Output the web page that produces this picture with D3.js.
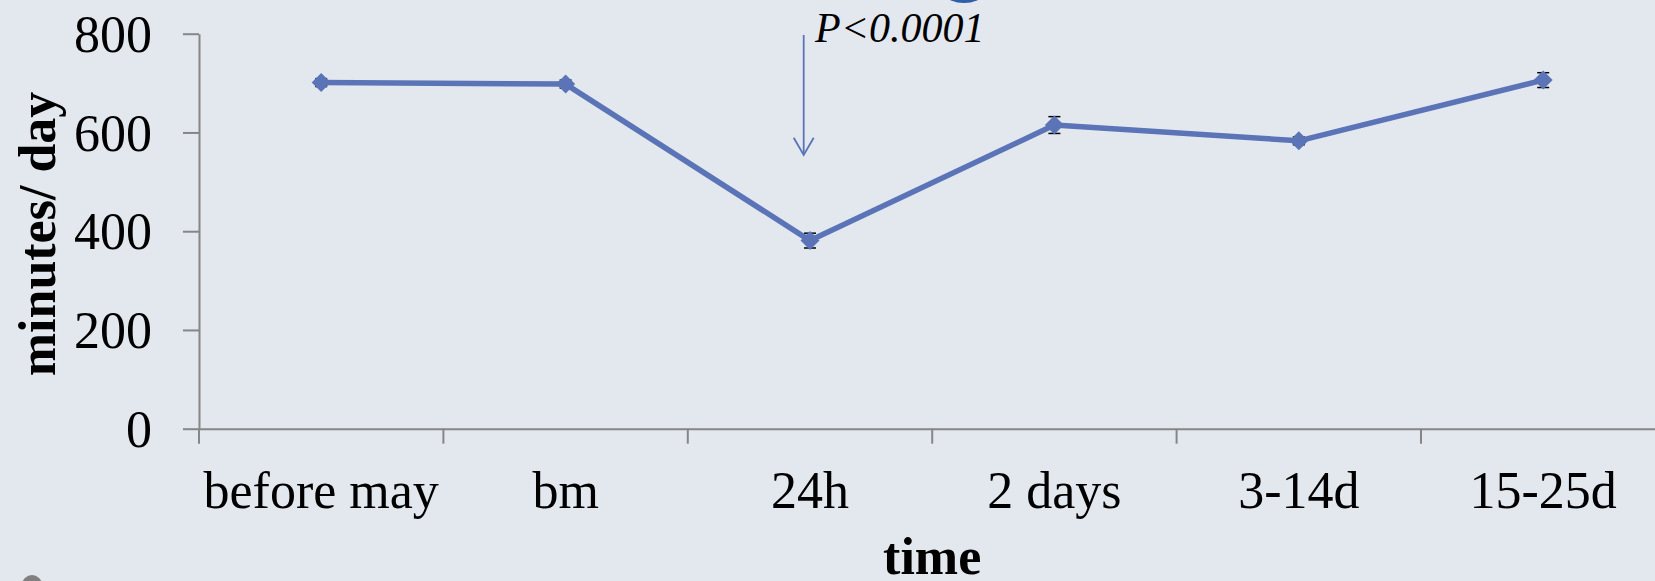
<!DOCTYPE html>
<html>
<head>
<meta charset="utf-8">
<script src="https://cdn.jsdelivr.net/npm/d3@7"></script>
<style>
  body { margin: 0; background: #e3e8ef; }
  svg { display: block; }
  text { font-family: "Liberation Serif", "Times New Roman", serif; fill: #000; }
</style>
</head>
<body>
<svg id="chart"></svg>
<script>
// data
var categories = ["before may", "bm", "24h", "2 days", "3-14d", "15-25d"];
var values = [701, 698, 381, 615, 583, 706];
var errors = [8, 8, 15, 17, 8, 15];
var yTicks = [0, 200, 400, 600, 800];
var pLabel = "P<0.0001";

var width = 1655,
    height = 581;
var plotLeft = 199, plotTop = 33.7, plotBottom = 428.7;
var step = 244.4;

var svg = d3.select("#chart")
    .attr("width", width)
    .attr("height", height);

svg.append("rect")
    .attr("width", width)
    .attr("height", height)
    .attr("fill", "#e3e8ef");

var x = d3.scaleBand()
    .domain(categories)
    .range([plotLeft, plotLeft + step * categories.length])
    .padding(0);

var y = d3.scaleLinear()
    .domain([0, 800])
    .range([plotBottom, plotTop]);

// y axis
var yAxis = svg.append("g")
    .attr("transform", "translate(" + plotLeft + ",0)")
    .call(d3.axisLeft(y).tickValues(yTicks).tickSize(16).tickPadding(31).tickSizeOuter(0));
yAxis.select(".domain").attr("stroke", "#868686").attr("stroke-width", 2);
yAxis.selectAll(".tick line").attr("stroke", "#868686").attr("stroke-width", 2);
yAxis.selectAll(".tick text")
    .attr("font-size", 52)
    .attr("font-family", "Liberation Serif, Times New Roman, serif")
    .attr("dy", "0.34em");

// x axis
var xAxis = svg.append("g")
    .attr("transform", "translate(0," + plotBottom + ")")
    .call(d3.axisBottom(x).tickSize(0).tickPadding(0).tickSizeOuter(0));
xAxis.select(".domain").attr("stroke", "#868686").attr("stroke-width", 2);
xAxis.selectAll(".tick text")
    .attr("font-size", 52)
    .attr("font-family", "Liberation Serif, Times New Roman, serif")
    .attr("dy", null)
    .attr("y", 79);

// boundary ticks between categories
svg.append("g").selectAll("line")
    .data(d3.range(categories.length + 1))
    .enter().append("line")
    .attr("x1", function(i) { return plotLeft + i * x.step(); })
    .attr("x2", function(i) { return plotLeft + i * x.step(); })
    .attr("y1", plotBottom)
    .attr("y2", plotBottom + 15)
    .attr("stroke", "#868686")
    .attr("stroke-width", 2);

// axis titles
svg.append("text")
    .attr("x", x.range()[0] + (x.range()[1] - x.range()[0]) / 2)
    .attr("y", 574)
    .attr("text-anchor", "middle")
    .attr("font-size", 52)
    .attr("font-weight", "bold")
    .text("time");

svg.append("text")
    .attr("transform", "translate(55,234) rotate(-90)")
    .attr("text-anchor", "middle")
    .attr("font-size", 52)
    .attr("font-weight", "bold")
    .text("minutes/ day");

var cx = function(d, i) { return x(categories[i]) + x.bandwidth() / 2; };

// error bars
var eb = svg.append("g").selectAll("g")
    .data(values)
    .enter().append("g");
eb.append("line")
    .attr("x1", cx).attr("x2", cx)
    .attr("y1", function(d, i) { return y(d + errors[i]); })
    .attr("y2", function(d, i) { return y(d - errors[i]); })
    .attr("stroke", "#000").attr("stroke-width", 1.5);
[1, -1].forEach(function(s) {
    eb.append("line")
        .attr("x1", function(d, i) { return cx(d, i) - 6; })
        .attr("x2", function(d, i) { return cx(d, i) + 6; })
        .attr("y1", function(d, i) { return y(d + s * errors[i]); })
        .attr("y2", function(d, i) { return y(d + s * errors[i]); })
        .attr("stroke", "#000").attr("stroke-width", 1.5);
});

// line
var line = d3.line()
    .x(function(d, i) { return cx(d, i); })
    .y(function(d) { return y(d); });

svg.append("path")
    .datum(values)
    .attr("d", line)
    .attr("fill", "none")
    .attr("stroke", "#5b73b7")
    .attr("stroke-width", 5.5)
    .attr("stroke-linejoin", "round");

// diamond markers
svg.append("g").selectAll("path")
    .data(values)
    .enter().append("path")
    .attr("d", "M0,-9.5L9.5,0L0,9.5L-9.5,0Z")
    .attr("transform", function(d, i) { return "translate(" + cx(d, i) + "," + y(d) + ")"; })
    .attr("fill", "#5b73b7");

// p value annotation with arrow pointing at 24h
var ax = x("24h") + x.bandwidth() / 2 - 6.3;
var arrow = svg.append("g")
    .attr("stroke", "#5b73b7")
    .attr("stroke-width", 1.8)
    .attr("fill", "none");
arrow.append("line")
    .attr("x1", ax).attr("x2", ax)
    .attr("y1", 35).attr("y2", 154);
arrow.append("path")
    .attr("d", "M" + (ax - 10) + ",137.7L" + ax + ",155L" + (ax + 10) + ",137.7");

svg.append("text")
    .attr("x", ax + 11.3)
    .attr("y", 41.7)
    .attr("font-size", 42)
    .attr("font-style", "italic")
    .text(pLabel);

// cut-off shapes at the image edges
svg.append("circle")
    .attr("cx", 964).attr("cy", -31)
    .attr("r", 34)
    .attr("fill", "#2f5fa6");
svg.append("circle")
    .attr("cx", 32).attr("cy", 585)
    .attr("r", 10)
    .attr("fill", "#808080");
</script>
</body>
</html>
